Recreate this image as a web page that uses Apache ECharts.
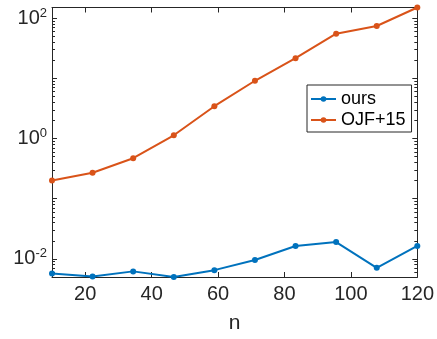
<!DOCTYPE html>
<html>
<head>
<meta charset="utf-8">
<script src="https://cdn.jsdelivr.net/npm/echarts@6/dist/echarts.min.js"></script>
<style>html,body{margin:0;padding:0;background:#fff}#c{width:437px;height:339px}</style>
</head>
<body>
<div id="c"></div>
<script>
const nValues = [10, 22.22, 34.44, 46.67, 58.89, 71.11, 83.33, 95.56, 107.78, 120];
const oursValues = [0.0057, 0.0051, 0.0062, 0.0050, 0.0065, 0.0096, 0.0164, 0.0190, 0.0071, 0.0164];
const ojfValues = [0.20, 0.27, 0.47, 1.13, 3.44, 9.1, 21.6, 55, 74, 150];
const xTickLabels = [20, 40, 60, 80, 100, 120];
const yLabelExponents = [-2, 0, 2];
const seriesNames = ['ours', 'OJF+15'];

const Y_MIN = 0.0050, Y_MAX = 150;
const axisColor = '#262626';
const font = 'Liberation Sans, Arial, Helvetica, sans-serif';

// minor tick positions (2..9 x 10^k) for the log axis decoration
const minorTicks = [];
for (let k = -3; k <= 2; k++) {
  for (let m = 2; m <= 9; m++) {
    const v = +(m * Math.pow(10, k)).toPrecision(6);
    if (v > Y_MIN && v < Y_MAX) minorTicks.push(v);
  }
}

function yFmt(v) {
  const l = Math.log10(v);
  const r = Math.round(l);
  if (Math.abs(l - r) < 1e-6 && yLabelExponents.indexOf(r) >= 0) {
    return '{b|10}{s|' + r + '}';
  }
  return '';
}

const chart = echarts.init(document.getElementById('c'), null, {renderer: 'canvas'});
const common = {
  axisLine: {show: true, lineStyle: {color: axisColor, width: 1}},
  splitLine: {show: false}
};
function minorAxis(pos) {
  return {
    type: 'log', logBase: 10, min: Y_MIN, max: Y_MAX, position: pos,
    axisLine: {show: false}, splitLine: {show: false},
    axisTick: {show: true, inside: true, length: 3, lineStyle: {color: axisColor}, customValues: minorTicks},
    axisLabel: {show: false}
  };
}
const option = {
  animation: false,
  backgroundColor: '#fff',
  grid: {left: 52, right: 18, top: 7.5, bottom: 61, containLabel: false},
  legend: {
    data: seriesNames,
    orient: 'vertical',
    left: 307, top: 85,
    backgroundColor: '#fff',
    borderColor: axisColor, borderWidth: 1, borderRadius: 0,
    padding: [5, 6, 3, 3],
    itemWidth: 25, itemHeight: 7, itemGap: 3,
    textStyle: {fontFamily: font, fontSize: 18, color: '#000', lineHeight: 18}
  },
  xAxis: [
    Object.assign({}, common, {
      type: 'value', min: 10, max: 120, position: 'bottom',
      name: 'n', nameLocation: 'middle', nameGap: 36,
      nameTextStyle: {fontFamily: font, fontSize: 21, color: axisColor},
      axisTick: {show: true, inside: true, length: 5, lineStyle: {color: axisColor}, customValues: xTickLabels},
      axisLabel: {show: true, margin: 7, fontFamily: font, fontSize: 20, color: axisColor, customValues: xTickLabels}
    }),
    Object.assign({}, common, {
      type: 'value', min: 10, max: 120, position: 'top',
      axisTick: {show: true, inside: true, length: 5, lineStyle: {color: axisColor}, customValues: xTickLabels},
      axisLabel: {show: false}
    })
  ],
  yAxis: [
    Object.assign({}, common, {
      type: 'log', logBase: 10, min: Y_MIN, max: Y_MAX, position: 'left',
      axisTick: {show: true, inside: true, length: 5, lineStyle: {color: axisColor}},
      axisLabel: {
        show: true, margin: 5, formatter: yFmt,
        showMinLabel: false, showMaxLabel: false,
        rich: {
          b: {fontFamily: font, fontSize: 20, color: axisColor},
          s: {fontFamily: font, fontSize: 13, color: axisColor, verticalAlign: 'top', padding: [0, 0, 10, 0]}
        }
      }
    }),
    Object.assign({}, common, {
      type: 'log', logBase: 10, min: Y_MIN, max: Y_MAX, position: 'right',
      axisTick: {show: true, inside: true, length: 5, lineStyle: {color: axisColor}},
      axisLabel: {show: false}
    }),
    minorAxis('left'),
    minorAxis('right')
  ],
  series: [
    {
      name: seriesNames[0], type: 'line', xAxisIndex: 0, yAxisIndex: 0,
      data: nValues.map((x, i) => [x, oursValues[i]]),
      color: '#0072BD', symbol: 'circle', symbolSize: 6, showSymbol: true,
      lineStyle: {width: 2}, clip: false
    },
    {
      name: seriesNames[1], type: 'line', xAxisIndex: 0, yAxisIndex: 0,
      data: nValues.map((x, i) => [x, ojfValues[i]]),
      color: '#D95319', symbol: 'circle', symbolSize: 6, showSymbol: true,
      lineStyle: {width: 2}, clip: false
    }
  ]
};
chart.setOption(option);
</script>
</body>
</html>
